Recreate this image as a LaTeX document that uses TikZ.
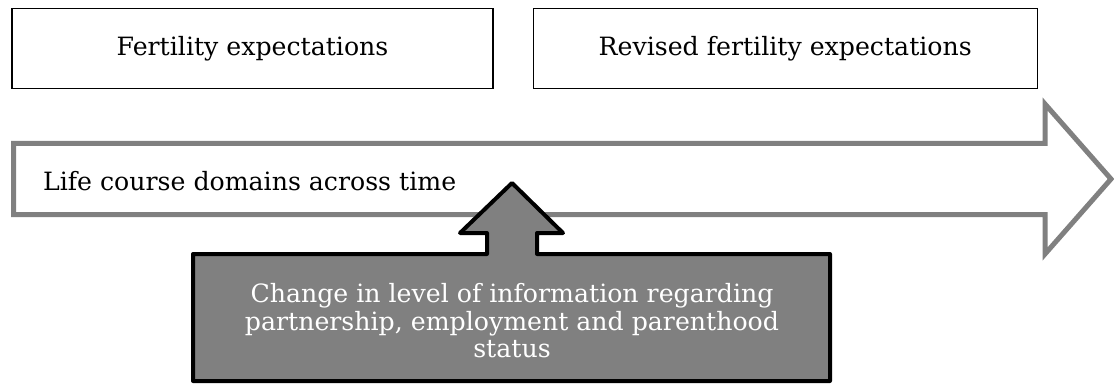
\documentclass[tikz,border=0pt]{standalone}
\usepackage{fontspec}
\setmainfont{DejaVu Serif}
\usetikzlibrary{positioning}

\definecolor{midgray}{RGB}{128,128,128}

\tikzset{
  expbox/.style={draw, line width=0.6pt, fill=white, minimum height=40pt, inner sep=0pt, font=\fontsize{12.6}{15}\selectfont},
  timearrow/.style={draw=midgray, line width=2.5pt, fill=white},
  infoshape/.style={draw=black, line width=2pt, line join=round, fill=midgray},
  infotext/.style={text=white, align=center, font=\fontsize{12.6}{13.75}\selectfont}
}

\begin{document}
\begin{tikzpicture}[x=0.5pt, y=-0.5pt]
  \useasboundingbox (0,0) rectangle (1114,385);

  % arrow across time
  \draw[timearrow] (13.5,143.5) -- (1045,143.5) -- (1045,104) -- (1111,179)
    -- (1045,254) -- (1045,214.5) -- (13.5,214.5) -- cycle;
  \node[anchor=base west, font=\fontsize{12.6}{15}\selectfont] (life) at (36,191) {Life course domains across time};

  % expectations
  \node[expbox, minimum width=240.5pt] (fe) at (252.5,48.5) {Fertility expectations};
  \node[expbox, minimum width=252pt, right=19.5pt of fe] (rfe) {Revised fertility expectations};

  % information callout
  \draw[infoshape] (193,254) -- (487,254) -- (487,233) -- (460,233) -- (512,183)
    -- (563,233) -- (537,233) -- (537,254) -- (830,254) -- (830,381) -- (193,381) -- cycle;
  \node[infotext] (info) at (512,321) {Change in level of information regarding\\partnership, employment and parenthood\\status};
\end{tikzpicture}
\end{document}
